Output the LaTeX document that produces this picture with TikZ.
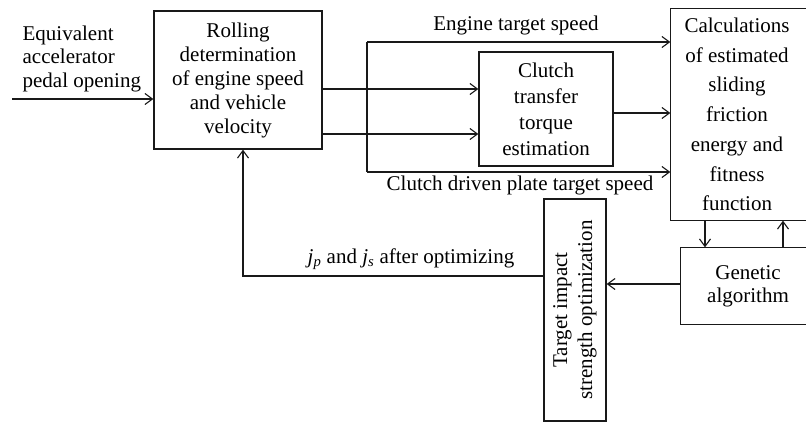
\documentclass[tikz,border=0pt]{standalone}
\usepackage{fontspec}
\setmainfont{Liberation Serif}
\usetikzlibrary{arrows.meta}
\begin{document}
\begin{tikzpicture}[x=1pt,y=-1pt,line width=1.3pt,
  every node/.style={font=\fontsize{21}{24}\selectfont},
  box/.style={draw=black!90, inner sep=0pt, align=center},
  openbox/.style={inner sep=0pt, align=center},
  arr/.style={draw=black!90,-{Straight Barb[length=7.5pt,width=11pt,line width=1.1pt]}},
  ln/.style={draw=black!90, line join=miter},
  lbl/.style={inner sep=0pt}]
\useasboundingbox (0,0) rectangle (806,424);
% boxes
\node[box, minimum width=168pt, minimum height=138pt] (rolling) at (238,80)
  {Rolling\\determination\\of engine speed\\and vehicle\\velocity};
\node[box, minimum width=134pt, minimum height=114pt,
  font=\fontsize{21}{26}\selectfont] (clutch) at (546,109)
  {Clutch\\transfer\\torque\\estimation};
\node[openbox, minimum width=132pt, minimum height=211pt,
  font=\fontsize{21}{29.7}\selectfont] (calc) at (737,114.5)
  {Calculations\\of estimated\\sliding\\friction\\energy and\\fitness\\function};
\node[openbox, minimum width=134pt, minimum height=76pt,
  font=\fontsize{21}{23}\selectfont] (ga) at (748,286)
  {Genetic\\algorithm};
\node[box, rotate=90, minimum width=222pt, minimum height=62pt,
  font=\fontsize{21}{25}\selectfont] (target) at (575,310)
  {Target impact\\strength optimization};
% open-ended box outlines (cut by the right margin)
\draw[ln] ([xshift=20pt]calc.north east) -- (calc.north west) -- (calc.south west) -- ([xshift=20pt]calc.south east);
\draw[ln] ([xshift=20pt]ga.north east) -- (ga.north west) -- (ga.south west) -- ([xshift=20pt]ga.south east);
% labels
\node[lbl, align=left, anchor=west, font=\fontsize{21}{23.5}\selectfont] (inlabel) at (22,58.6)
  {Equivalent\\accelerator\\pedal opening};
\node[lbl, anchor=base] (etsl) at (516,30) {Engine target speed};
\node[lbl, anchor=base] (cdpl) at (520,190) {Clutch driven plate target speed};
\node[lbl, anchor=base] (jl) at (411,263)
  {\textit{j}\textsubscript{\textit{p}} and \textit{j}\textsubscript{\textit{s}} after optimizing};
% helper coordinates
\coordinate (inp) at (12,99);
\coordinate (yA) at (0,89);
\coordinate (yB) at (0,134);
\coordinate (yC) at (0,113);
\coordinate (s1) at (367,42);
\coordinate (s2) at (367,172);
\coordinate (xD) at (705,0);
\coordinate (xU) at (783,0);
\coordinate (yG) at (0,284);
\coordinate (yF) at (0,276);
\coordinate (xF) at (243,0);
% connectors
\draw[arr] (inp) -- (rolling.west |- inp);
\draw[arr] (rolling.east |- yA) -- (clutch.west |- yA);
\draw[arr] (rolling.east |- yB) -- (clutch.west |- yB);
\draw[ln] (s1) -- (s2);
\draw[arr] (s1) -- (s1 -| calc.west);
\draw[arr] (s2) -- (s2 -| calc.west);
\draw[arr] (clutch.east |- yC) -- (calc.west |- yC);
\draw[arr] (calc.south -| xD) -- (ga.north -| xD);
\draw[arr] (ga.north -| xU) -- (calc.south -| xU);
\draw[arr] (ga.west |- yG) -- (target.south |- yG);
\draw[arr] (target.north |- yF) -- (xF |- yF) -- (rolling.south -| xF);
\end{tikzpicture}
\end{document}
